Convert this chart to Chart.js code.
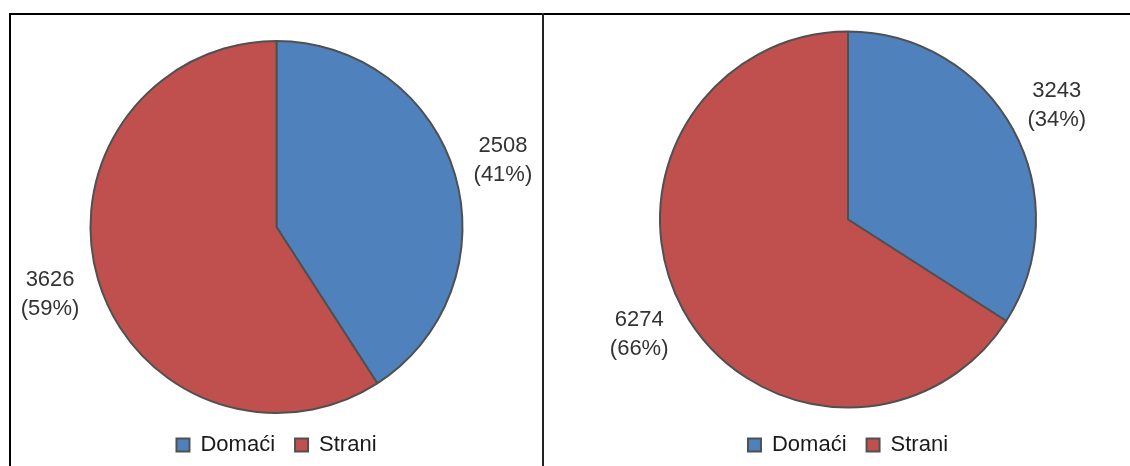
<!DOCTYPE html>
<html>
<head>
<meta charset="utf-8">
<script src="https://cdn.jsdelivr.net/npm/chart.js@4/dist/chart.umd.min.js"></script>
<style>
  html, body { margin: 0; padding: 0; background: #fff; overflow: hidden; }
  body { width: 1130px; height: 466px; position: relative; }
  .line { position: absolute; background: #000; }
  .wrap { position: absolute; }
</style>
</head>
<body>
<div class="line" style="left:9px; top:13px; width:1121px; height:2px;"></div>
<div class="line" style="left:9px; top:13px; width:2px; height:453px;"></div>
<div class="line" style="left:542px; top:13px; width:2px; height:453px; background:#222;"></div>

<div class="wrap" style="left:11px; top:16px; width:531px; height:450px;"><canvas id="left"></canvas></div>
<div class="wrap" style="left:545px; top:16px; width:585px; height:450px;"><canvas id="right"></canvas></div>

<script>
const categories = ['Domaći', 'Strani'];
const leftValues = [2508, 3626];
const rightValues = [3243, 6274];
const colors = ['#4F81BD', '#C0504D'];

/* value + percent labels outside each slice */
const outsideLabels = {
  id: 'outsideLabels',
  afterDatasetsDraw(chart) {
    const ctx = chart.ctx;
    const data = chart.data.datasets[0].data;
    const total = data.reduce((a, b) => a + b, 0);
    const meta = chart.getDatasetMeta(0);
    ctx.save();
    ctx.font = '22px "Liberation Sans", Arial, sans-serif';
    ctx.fillStyle = '#333';
    ctx.textAlign = 'center';
    ctx.textBaseline = 'middle';
    meta.data.forEach((arc, i) => {
      const p = arc.getProps(['x', 'y', 'startAngle', 'endAngle', 'outerRadius'], true);
      const mid = (p.startAngle + p.endAngle) / 2;
      const d = p.outerRadius + 50;
      const x = p.x + Math.cos(mid) * d;
      const y = p.y + Math.sin(mid) * d;
      const pct = Math.round(data[i] / total * 100);
      ctx.fillText(String(data[i]), x, y - 14);
      ctx.fillText('(' + pct + '%)', x, y + 15);
    });
    ctx.restore();
  }
};

function makePie(id, values, radius, padding) {
  return new Chart(document.getElementById(id), {
    type: 'pie',
    data: {
      labels: categories,
      datasets: [{
        data: values,
        backgroundColor: colors,
        borderColor: '#505050',
        borderWidth: 2,
        radius: radius
      }]
    },
    options: {
      responsive: true,
      maintainAspectRatio: false,
      animation: false,
      layout: { padding: padding },
      plugins: {
        tooltip: { enabled: false },
        legend: {
          position: 'bottom',
          labels: {
            boxWidth: 13,
            boxHeight: 13,
            padding: 20,
            color: '#1a1a1a',
            font: { family: '"Liberation Sans", Arial, sans-serif', size: 22 }
          }
        }
      }
    },
    plugins: [outsideLabels]
  });
}

makePie('left', leftValues, 186, { top: 24, left: 0, right: 0, bottom: 0 });
makePie('right', rightValues, 188, { top: 9, left: 21, right: 0, bottom: 0 });
</script>
</body>
</html>
